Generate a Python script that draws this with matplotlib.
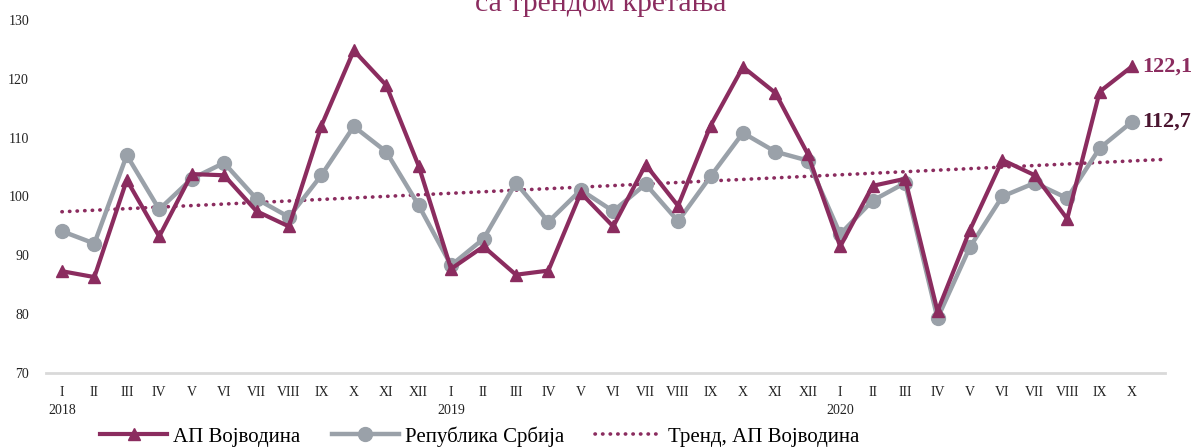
import numpy as np
import matplotlib.pyplot as plt

months = ["I", "II", "III", "IV", "V", "VI", "VII", "VIII", "IX", "X", "XI", "XII",
          "I", "II", "III", "IV", "V", "VI", "VII", "VIII", "IX", "X", "XI", "XII",
          "I", "II", "III", "IV", "V", "VI", "VII", "VIII", "IX", "X"]
years = ["2018", "2019", "2020"]

vojvodina = [87.3, 86.3, 102.8, 93.2, 103.8, 103.6, 97.5, 94.9, 112.0, 124.8, 118.9, 105.2,
             87.7, 91.5, 86.7, 87.4, 100.6, 94.9, 105.4, 98.4, 112.0, 122.0, 117.6, 107.2,
             91.5, 101.8, 103.0, 80.5, 94.3, 106.2, 103.6, 96.2, 117.8, 122.1]
srbija = [94.1, 92.0, 107.0, 97.8, 103.0, 105.7, 99.6, 96.5, 103.6, 111.9, 107.6, 98.5,
          88.3, 92.8, 102.3, 95.7, 101.1, 97.5, 102.1, 95.8, 103.4, 110.8, 107.6, 106.1,
          93.6, 99.3, 102.3, 79.3, 91.4, 100.0, 102.3, 99.7, 108.2, 112.7]
trend_ends = [97.4, 106.3]

purple = "#8B2C5F"
grey = "#9AA1A9"

plt.rcParams['font.family'] = ['Liberation Serif', 'DejaVu Serif']

fig = plt.figure(figsize=(12.03, 4.47), dpi=100)
ax = fig.add_axes([0.038, 0.1655, 0.930, 0.79])

x = np.arange(len(months))
ax.plot(x, vojvodina, color=purple, lw=3, marker="^", markersize=9,
        label="АП Војводина", zorder=3)
ax.plot(x, srbija, color=grey, lw=3.2, marker="o", markersize=10,
        label="Република Србија", zorder=2)
ax.plot([0, len(months)], trend_ends, color=purple, lw=2.6,
        linestyle=(0, (0.1, 2.0)), dash_capstyle="round",
        label="Тренд, АП Војводина", zorder=1)

ax.text(x[-1] + 0.3, vojvodina[-1], "122,1", color=purple, fontsize=16,
        fontweight="bold", va="center", ha="left")
ax.text(x[-1] + 0.3, srbija[-1], "112,7", color="#4B1530", fontsize=16,
        fontweight="bold", va="center", ha="left")

ax.set_ylim(70, 130)
ax.set_yticks(range(70, 131, 10))
ax.set_xlim(-0.5, len(months))
ax.set_xticks(x)
ax.set_xticklabels(months)
ax.tick_params(length=0, labelsize=10, colors="#222222")
ax.tick_params(axis="x", pad=9)
ax.tick_params(axis="y", pad=12)
for i, yr in enumerate(years):
    ax.text(i * 12, -0.088, yr, transform=ax.get_xaxis_transform(),
            ha="center", va="top", fontsize=10, color="#222222")

for s in ["left", "right", "top"]:
    ax.spines[s].set_visible(False)
ax.spines["bottom"].set_color("#D9D9D9")
ax.spines["bottom"].set_linewidth(2)

fig.text(0.499, 0.976, "са трендом кретања", color=purple, fontsize=21.5,
         ha="center", va="baseline")

fig.legend(loc="center", bbox_to_anchor=(0.399, 0.024), ncol=3, frameon=False,
           fontsize=15, handlelength=3.2, columnspacing=1.5, handletextpad=0.3)

fig.savefig("out.png", dpi=100)
